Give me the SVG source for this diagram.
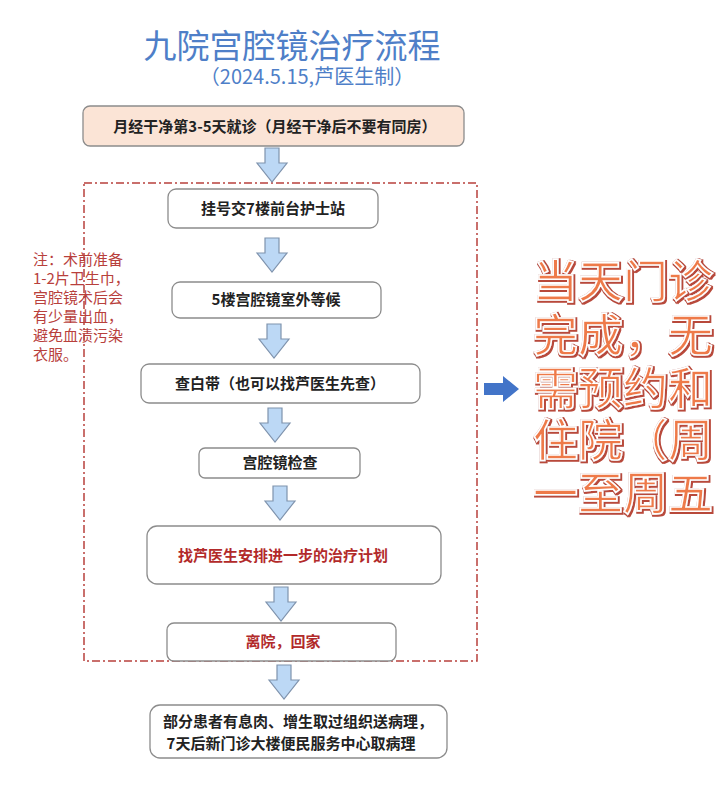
<svg xmlns="http://www.w3.org/2000/svg" width="728" height="800" viewBox="0 0 728 800">
<defs>
<style>
.box{fill:#ffffff;stroke:#8c8c8c;stroke-width:1.3}
.t{font-family:"Noto Sans CJK SC","Liberation Serif",serif;font-size:15px;font-weight:bold;fill:#222;text-anchor:middle}
.r{fill:#b22a2a}
.note{font-family:"Noto Sans CJK SC",serif;font-size:15px;fill:#b8403c}
.big{font-family:"Noto Sans CJK SC",sans-serif;font-size:45px;font-weight:500;fill:#ee7a4a;stroke:#ffffff;stroke-width:1.6;filter:url(#outline)}
.arr{fill:#bcd8f5;stroke:#7f93ad;stroke-width:1.2}
</style>
<filter id="outline" x="-5%" y="-20%" width="110%" height="140%">
<feMorphology in="SourceAlpha" operator="dilate" radius="1" result="d"/>
<feOffset in="d" dx="0.6" dy="0.6" result="o"/>
<feFlood flood-color="#b8483a"/>
<feComposite in2="o" operator="in" result="edge"/>
<feMerge><feMergeNode in="edge"/><feMergeNode in="SourceGraphic"/></feMerge>
</filter>
<path id="dn" d="M-7,0 H7 V15 H15 L0,34 L-15,15 H-7 Z"/>
</defs>
<rect width="728" height="800" fill="#ffffff"/>
<g id="title">
<text x="292" y="58" font-family="Noto Sans CJK SC,sans-serif" font-size="33" fill="#4f7fc8" text-anchor="middle">九院宫腔镜治疗流程</text>
<text x="307" y="84" font-family="Noto Sans CJK SC,sans-serif" font-size="20" fill="#4f7fc8" text-anchor="middle">（2024.5.15,芦医生制）</text>
</g>
<g id="group-frame">
<rect x="84" y="183" width="393" height="478" fill="none" stroke="#b8403c" stroke-width="1.5" stroke-dasharray="8,3,2,3"/>
</g>
<g id="connectors">
<use href="#dn" class="arr" x="272" y="148"/>
<use href="#dn" class="arr" x="272" y="238"/>
<use href="#dn" class="arr" x="274" y="324"/>
<use href="#dn" class="arr" x="275" y="408"/>
<use href="#dn" class="arr" x="280" y="486"/>
<use href="#dn" class="arr" x="281" y="587"/>
<use href="#dn" class="arr" x="284" y="665"/>
<path d="M484,383 H503 V376 L519,389 L503,402 V395 H484 Z" fill="#4274c8"/>
</g>
<g id="n1">
<rect x="83" y="106" width="381" height="40" rx="7" fill="#fbe4d6" stroke="#8c8c8c" stroke-width="1.3"/>
<text class="t" x="275" y="132">月经干净第3-5天就诊（月经干净后不要有同房）</text>
</g>
<g id="n2">
<rect class="box" x="168" y="189" width="210" height="39" rx="8"/>
<text class="t" x="273" y="214">挂号交7楼前台护士站</text>
</g>
<g id="n3">
<rect class="box" x="172" y="282" width="209" height="36" rx="8"/>
<text class="t" x="276" y="305">5楼宫腔镜室外等候</text>
</g>
<g id="n4">
<rect class="box" x="141" y="364" width="279" height="39" rx="8"/>
<text class="t" x="280" y="389">查白带（也可以找芦医生先查）</text>
</g>
<g id="n5">
<rect class="box" x="199" y="448" width="161" height="30" rx="6"/>
<text class="t" x="280" y="468">宫腔镜检查</text>
</g>
<g id="n6">
<rect class="box" x="147" y="526" width="294" height="58" rx="10"/>
<text class="t r" x="283" y="561">找芦医生安排进一步的治疗计划</text>
</g>
<g id="n7">
<rect class="box" x="167" y="623" width="229" height="38" rx="7"/>
<text class="t r" x="283" y="647">离院，回家</text>
</g>
<g id="n8">
<rect class="box" x="150" y="705" width="297" height="53" rx="10"/>
<text class="t" x="298" y="727">部分患者有息肉、增生取过组织送病理，</text>
<text class="t" x="291" y="749">7天后新门诊大楼便民服务中心取病理</text>
</g>
<g id="note">
<text class="note" x="33" y="265">注：术前准备</text>
<text class="note" x="33" y="284">1-2片卫生巾，</text>
<text class="note" x="33" y="303">宫腔镜术后会</text>
<text class="note" x="33" y="322">有少量出血，</text>
<text class="note" x="33" y="341">避免血渍污染</text>
<text class="note" x="33" y="360">衣服。</text>
</g>
<g id="side-text">
<text class="big" x="533" y="298">当天门诊</text>
<text class="big" x="533" y="352">完成，无</text>
<text class="big" x="533" y="405">需预约和</text>
<text class="big" x="533" y="457">住院（周</text>
<text class="big" x="533" y="510">一至周五</text>
</g>
</svg>
